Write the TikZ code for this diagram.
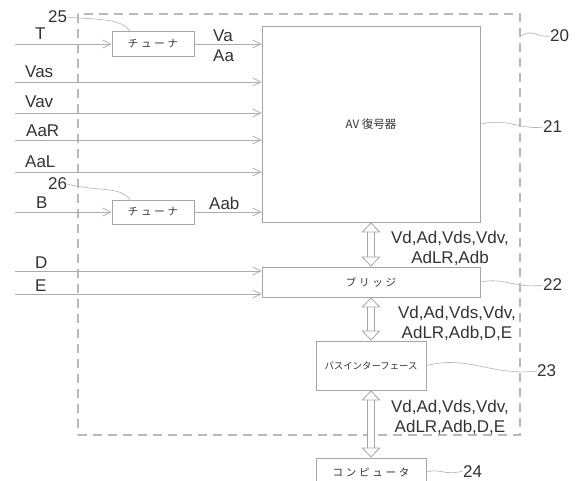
\documentclass[tikz,border=0pt]{standalone}
\usepackage{fontspec}
\setmainfont{Liberation Sans}
\newfontfamily\jp{Noto Sans CJK JP}
\newfontfamily\jpw{Noto Sans CJK JP}[LetterSpace=26]
\usetikzlibrary{positioning,arrows.meta}

\begin{document}
\begin{tikzpicture}[
  x=1pt, y=-1pt,
  >={Straight Barb[length=8pt,width=8pt]},
  box/.style={draw=gray!70, line width=0.8pt, inner sep=0pt, text=black!80, font=\jp\fontsize{10.5}{12}\selectfont},
  frame/.style={draw=gray!55, line width=1.2pt, dash pattern=on 9pt off 6pt, inner sep=0pt},
  sig/.style={draw=gray!65, line width=0.8pt, ->},
  lbl/.style={inner sep=0pt, text=black!80, font=\fontsize{17}{20}\selectfont},
  lead/.style={draw=gray!60, line width=0.6pt},
  dbl/.style={draw=gray!70, line width=0.8pt, double distance=6pt,
    {Triangle[open,length=10pt,width=19pt]}-{Triangle[open,length=10pt,width=19pt]}}
]
\useasboundingbox (0,0) rectangle (579,481);

% blocks
\node[frame, minimum width=442pt, minimum height=421pt] (frm) at (299,224.5) {};
\node[box, minimum width=218pt, minimum height=196pt, font=\jp\fontsize{11.5}{13}\selectfont] (dec) at (371,124) {AV 復号器};
\node[box, minimum width=82pt, minimum height=25pt, font=\jpw\fontsize{10.5}{12}\selectfont] (tun1) at (153,44) {チューナ};
\node[box, minimum width=82pt, minimum height=24pt, font=\jpw\fontsize{10.5}{12}\selectfont] (tun2) at (153,212) {チューナ};
\node[box, minimum width=218pt, minimum height=30pt, font=\jpw\fontsize{10.5}{12}\selectfont] (brg) at (371,282) {ブリッジ};
\node[box, minimum width=110pt, minimum height=49pt, font=\jp\fontsize{9.4}{11}\selectfont] (bus) at (371,365.5) {バスインターフェース};
\node[box, minimum width=110pt, minimum height=28pt, font=\jpw\fontsize{10.5}{12}\selectfont] (cmp) at (371,472) {コンピュータ};

% inputs
\coordinate (iT) at (15,44);
\coordinate (iVas) at (15,82);
\coordinate (iVav) at (15,113);
\coordinate (iAaR) at (15,140);
\coordinate (iAaL) at (15,172);
\coordinate (iB) at (15,212);
\coordinate (iD) at (15,271);
\coordinate (iE) at (15,294);

\node[lbl, anchor=base west] (lT) at (35,40) {T};
\node[lbl, anchor=base west] (lVas) at (25,78) {Vas};
\node[lbl, anchor=base west] (lVav) at (25,108) {Vav};
\node[lbl, anchor=base west] (lAaR) at (26,137) {AaR};
\node[lbl, anchor=base west] (lAaL) at (25,168) {AaL};
\node[lbl, anchor=base west] (lB) at (36,209) {B};
\node[lbl, anchor=base west] (lD) at (35,269) {D};
\node[lbl, anchor=base west] (lE) at (35,292) {E};
\node[lbl, anchor=base west] (lVa) at (213,42) {Va};
\node[lbl, anchor=base west] (lAa) at (213,62) {Aa};
\node[lbl, anchor=base west] (lAab) at (209,210) {Aab};

\draw[sig] (iT) -- (tun1);
\draw[sig] (tun1) -- (tun1 -| dec.west);
\draw[sig] (iVas) -- (iVas -| dec.west);
\draw[sig] (iVav) -- (iVav -| dec.west);
\draw[sig] (iAaR) -- (iAaR -| dec.west);
\draw[sig] (iAaL) -- (iAaL -| dec.west);
\draw[sig] (iB) -- (tun2);
\draw[sig] (tun2) -- (tun2 -| dec.west);
\draw[sig] (iD) -- (iD -| brg.west);
\draw[sig] (iE) -- (iE -| brg.west);

% buses
\draw[dbl] (dec.south) -- (brg.north);
\draw[dbl] (brg.south) -- (bus.north);
\draw[dbl] (bus.south) -- (cmp.north);
\node[lbl, align=center] (b1) at (450,248) {Vd,Ad,Vds,Vdv,\\AdLR,Adb};
\node[lbl, align=center] (b2) at (457,323) {Vd,Ad,Vds,Vdv,\\AdLR,Adb,D,E};
\node[lbl, align=center] (b3) at (450,417) {Vd,Ad,Vds,Vdv,\\AdLR,Adb,D,E};

% reference numbers
\node[lbl, anchor=base west] (n25) at (48,23) {25};
\node[lbl, anchor=base west] (n26) at (48,190) {26};
\node[lbl, anchor=base west] (n20) at (550,42) {20};
\node[lbl, anchor=base west] (n21) at (543,133) {21};
\node[lbl, anchor=base west] (n22) at (543,291) {22};
\node[lbl, anchor=base west] (n23) at (537,377) {23};
\node[lbl, anchor=base west] (n24) at (463,477) {24};

\draw[lead] (n25.east) .. controls (100,20) and (120,18) .. ([xshift=-23pt]tun1.north);
\draw[lead] (n26.east) .. controls (100,192) and (120,186) .. ([xshift=-23pt]tun2.north);
\draw[lead] (frm.east |- n20.west) .. controls (532,28) and (538,38) .. (n20.west);
\draw[lead] (dec.east) .. controls (510,118) and (520,130) .. (n21.west);
\draw[lead] (brg.east) .. controls (505,277) and (515,289) .. (n22.west);
\draw[lead] (bus.east) .. controls (470,355) and (490,376) .. (n23.west);
\draw[lead] (cmp.east) .. controls (440,468) and (445,476) .. (n24.west);
\end{tikzpicture}
\end{document}
